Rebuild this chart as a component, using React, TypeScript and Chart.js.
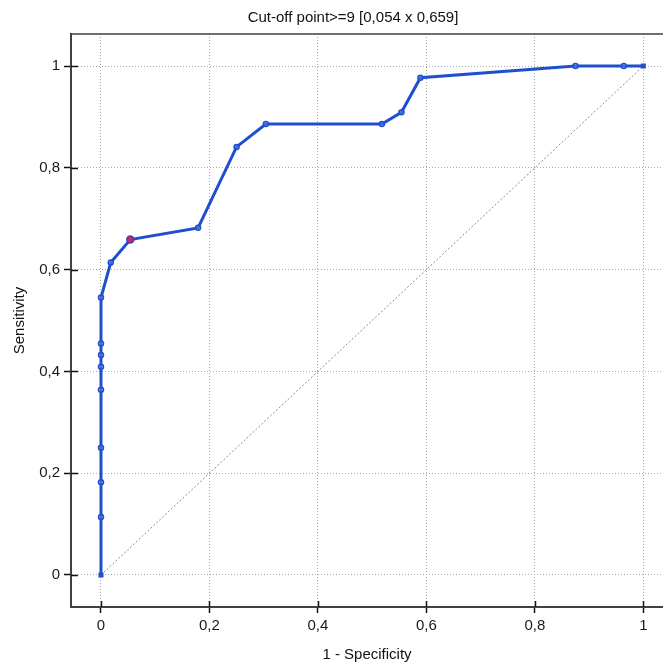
import React, { useEffect, useRef } from "react";
import { Chart, registerables } from "chart.js";

Chart.register(...registerables);

const TITLE = "Cut-off point>=9 [0,054 x 0,659]";
const X_TITLE = "1 - Specificity";
const Y_TITLE = "Sensitivity";

const ROC_X = [0, 0, 0, 0, 0, 0, 0, 0, 0, 0.018, 0.054, 0.179, 0.25, 0.304, 0.518, 0.554, 0.589, 0.875, 0.964, 1];
const ROC_Y = [0, 0.114, 0.182, 0.25, 0.364, 0.409, 0.432, 0.455, 0.545, 0.614, 0.659, 0.682, 0.841, 0.886, 0.886, 0.909, 0.977, 1, 1, 1];

const CUT_X = [0.054];
const CUT_Y = [0.659];

const DIAG_X = [0, 1];
const DIAG_Y = [0, 1];

const X_TICKS = [0, 0.2, 0.4, 0.6, 0.8, 1];
const Y_TICKS = [0, 0.2, 0.4, 0.6, 0.8, 1];

const FONT = "'Liberation Sans', Arial, sans-serif";
const BLUE = "#1f4fcf";

const fmt = (v: number) => String(Math.round(v * 10) / 10).replace(".", ",");

const framePlugin = {
  id: "frame",
  afterDraw(chart: any) {
    const { ctx, chartArea, scales } = chart;
    ctx.save();
    // title
    ctx.fillStyle = "#111";
    ctx.font = `15px ${FONT}`;
    ctx.textAlign = "center";
    ctx.textBaseline = "middle";
    ctx.fillText(TITLE, 353, 18);
    // top frame line
    ctx.strokeStyle = "#404040";
    ctx.lineWidth = 1.5;
    ctx.beginPath();
    ctx.moveTo(chartArea.left, chartArea.top);
    ctx.lineTo(chartArea.right, chartArea.top);
    ctx.stroke();
    // inner halves of tick marks
    ctx.strokeStyle = "#111";
    ctx.lineWidth = 1.5;
    ctx.beginPath();
    X_TICKS.forEach((v) => {
      const px = Math.round(scales.x.getPixelForValue(v)) + 0.5;
      ctx.moveTo(px, chartArea.bottom);
      ctx.lineTo(px, chartArea.bottom - 6);
    });
    Y_TICKS.forEach((v) => {
      const py = Math.round(scales.y.getPixelForValue(v)) + 0.5;
      ctx.moveTo(chartArea.left, py);
      ctx.lineTo(chartArea.left + 7, py);
    });
    ctx.stroke();
    ctx.restore();
  },
};

export default function App() {
  const ref = useRef<HTMLCanvasElement | null>(null);

  useEffect(() => {
    document.body.style.margin = "0";
    const canvas = ref.current;
    if (!canvas) return;
    const rocData = ROC_X.map((x, i) => ({ x, y: ROC_Y[i] }));
    const cutData = CUT_X.map((x, i) => ({ x, y: CUT_Y[i] }));
    const diagData = DIAG_X.map((x, i) => ({ x, y: DIAG_Y[i] }));
    const styles = ROC_X.map((_, i) => (i === 0 || i === ROC_X.length - 1 ? "rect" : "circle"));
    const fills = ROC_X.map((_, i) => (i === 0 || i === ROC_X.length - 1 ? BLUE : "rgba(120,150,230,0.4)"));

    const chart = new Chart(canvas, {
      type: "scatter",
      data: {
        datasets: [
          {
            data: cutData,
            showLine: false,
            pointRadius: 3.5,
            pointBorderWidth: 1.5,
            pointBackgroundColor: "#c02a55",
            pointBorderColor: "#4a3fb8",
          },
          {
            data: rocData,
            showLine: true,
            borderColor: BLUE,
            borderWidth: 3,
            pointRadius: 2.5,
            pointBorderWidth: 1.5,
            pointStyle: styles as any,
            pointBackgroundColor: fills,
            pointBorderColor: BLUE,
          },
          {
            data: diagData,
            showLine: true,
            borderColor: "#8a8a8a",
            borderWidth: 1,
            borderDash: [2, 2],
            pointRadius: 0,
          },
        ],
      },
      options: {
        responsive: false,
        animation: false,
        layout: { autoPadding: false, padding: { top: 34, left: 0, right: 0, bottom: 0 } },
        plugins: {
          legend: { display: false },
          tooltip: { enabled: false },
          title: { display: false },
        },
        scales: {
          x: {
            type: "linear",
            min: -0.0553,
            max: 1.0363,
            afterFit: (s: any) => {
              s.height = 57;
              s.paddingLeft = 0;
              s.paddingRight = 0;
            },
            afterBuildTicks: (s: any) => {
              s.ticks = X_TICKS.map((v) => ({ value: v }));
            },
            ticks: {
              callback: (v: any) => fmt(Number(v)),
              color: "#1a1a1a",
              font: { family: FONT, size: 15 },
              padding: 4,
              maxRotation: 0,
              autoSkip: false,
            },
            grid: {
              color: "#ababab",
              lineWidth: 1,
              tickLength: 6,
              tickColor: "#111",
              tickWidth: 1.5,
            },
            border: { display: true, color: "#404040", width: 2, dash: [1, 2] },
            title: {
              display: true,
              text: X_TITLE,
              color: "#111",
              font: { family: FONT, size: 15 },
              padding: { top: 3, bottom: 0 },
            },
          },
          y: {
            type: "linear",
            min: -0.0629,
            max: 1.0629,
            afterFit: (s: any) => {
              s.width = 71;
              s.paddingTop = 0;
              s.paddingBottom = 0;
            },
            afterBuildTicks: (s: any) => {
              s.ticks = Y_TICKS.map((v) => ({ value: v }));
            },
            ticks: {
              callback: (v: any) => fmt(Number(v)),
              color: "#1a1a1a",
              font: { family: FONT, size: 15 },
              padding: 4,
              autoSkip: false,
            },
            grid: {
              color: "#ababab",
              lineWidth: 1,
              tickLength: 7,
              tickColor: "#111",
              tickWidth: 1.5,
            },
            border: { display: true, color: "#404040", width: 2, dash: [1, 2] },
            title: {
              display: true,
              text: Y_TITLE,
              color: "#111",
              font: { family: FONT, size: 15 },
              padding: { top: 11, bottom: 0 },
            },
          },
        },
      },
      plugins: [framePlugin],
    });
    return () => chart.destroy();
  }, []);

  return (
    <div style={{ width: 663, height: 664 }}>
      <canvas ref={ref} width={663} height={664} style={{ display: "block" }} />
    </div>
  );
}
